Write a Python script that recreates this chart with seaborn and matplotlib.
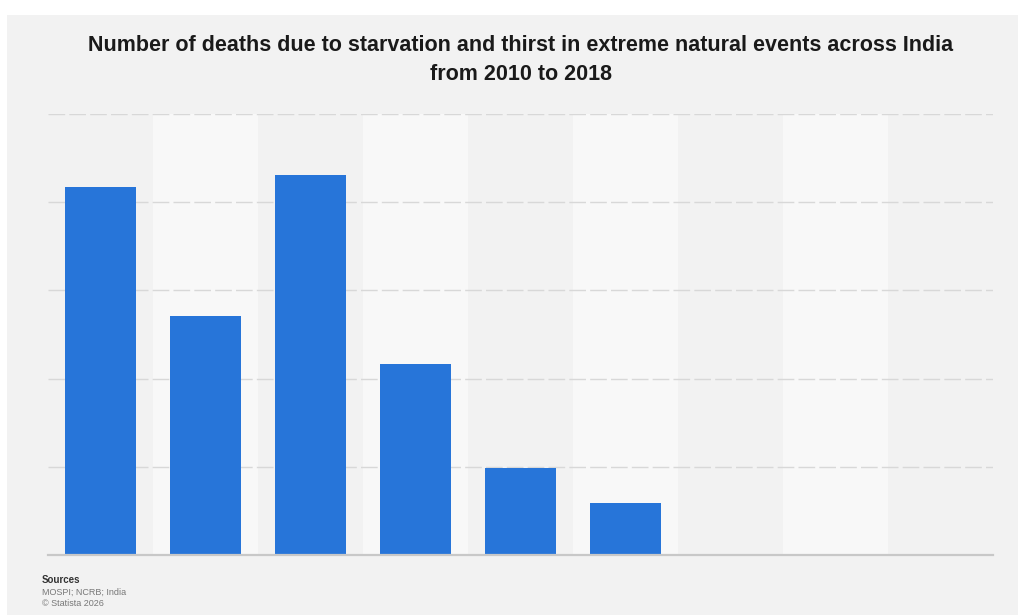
import matplotlib
matplotlib.use("Agg")
import matplotlib.pyplot as plt
import matplotlib.patches as mpatches
import seaborn as sns
import pandas as pd

years = ["2010", "2011", "2012", "2013", "2014", "2015", "2016", "2017", "2018"]
deaths = [41.7, 27.1, 43.1, 21.6, 9.9, 5.9, 0, 0, 0]
grid_ticks = [0, 10, 20, 30, 40, 50]

title = "Number of deaths due to starvation and thirst in extreme natural events across India\nfrom 2010 to 2018"
source_head = "Sources"
source_body = "MOSPI; NCRB; India"
copyright_txt = "\u00a9 Statista 2026"

sns.set_theme(style="white")
plt.rcParams["font.family"] = ["Liberation Sans", "DejaVu Sans"]

df = pd.DataFrame({"year": years, "deaths": deaths})

fig = plt.figure(figsize=(10.18, 6.15), dpi=100)
fig.patch.set_facecolor("white")
fig.patches.append(mpatches.Rectangle((7 / 1018, 0), 1 - 7 / 1018, 1 - 15 / 615,
                                      transform=fig.transFigure, facecolor="#f2f2f2",
                                      edgecolor="none", zorder=-5))

ax = fig.add_axes([48 / 1018, 60 / 615, 945 / 1018, 441 / 615])
ax.set_zorder(2)
ax.set_facecolor("#f2f2f2")

for i in range(len(years)):
    if i % 2 == 1:
        ax.axvspan(i - 0.5, i + 0.5, color="#f8f8f8", zorder=0, lw=0)

sns.barplot(data=df, x="year", y="deaths", color="#2775d9", width=0.683,
            saturation=1, ax=ax, zorder=3, linewidth=0)

ax.set_xlim(-0.5, len(years) - 0.5)
ax.set_ylim(0, 50)
for t in grid_ticks[1:]:
    ax.axhline(t, color="#d8d8d8", lw=1.0, linestyle=(0, (12, 3)), zorder=1)

ax.set_xticks([])
ax.set_yticks([])
ax.set_xlabel("")
ax.set_ylabel("")
for s in ["top", "right", "left"]:
    ax.spines[s].set_visible(False)
ax.spines["bottom"].set_color("#c8c8c8")
ax.spines["bottom"].set_linewidth(1.6)
ax.spines["bottom"].set_zorder(4)

fig.text(521 / 1018, 1 - 60 / 615, title, ha="center", va="center",
         fontsize=15.5, fontweight="bold", color="#1a1a1a", linespacing=1.45)

fig.text(42 / 1018, 1 - 580 / 615, source_head, ha="left", va="center",
         fontsize=7, fontweight="bold", color="#333333")
fig.text(42 / 1018, 1 - 592 / 615, source_body, ha="left", va="center",
         fontsize=6.5, color="#777777")
fig.text(42 / 1018, 1 - 604 / 615, copyright_txt, ha="left", va="center",
         fontsize=6.5, color="#777777")

fig.savefig("out.png", dpi=100, facecolor=fig.get_facecolor())
